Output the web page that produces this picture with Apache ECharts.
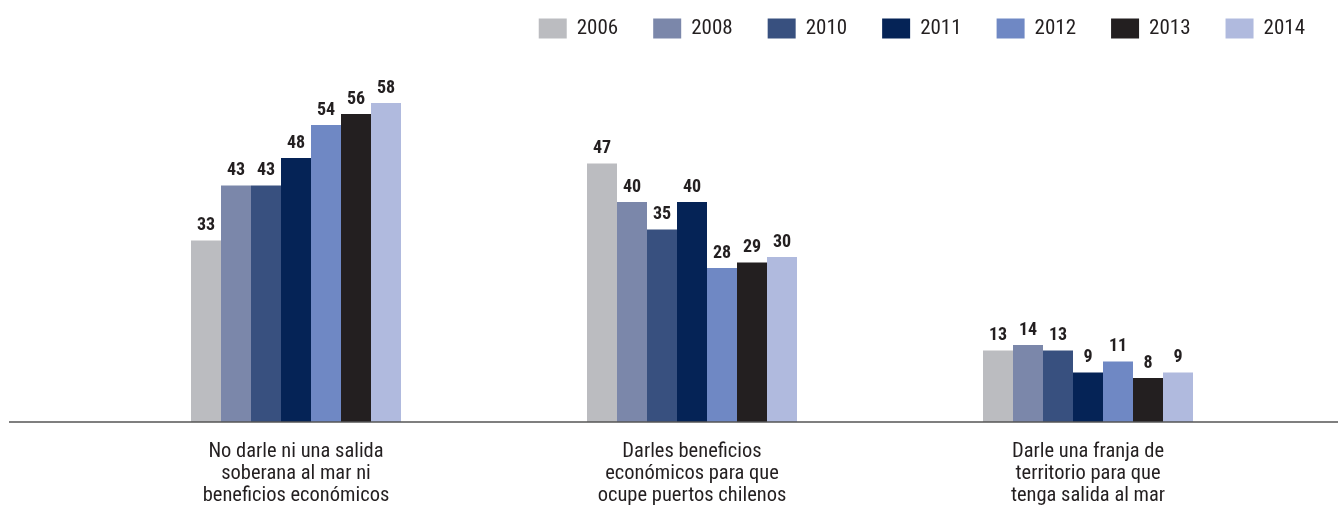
<!DOCTYPE html>
<html>
<head>
<meta charset="utf-8">
<script src="https://cdn.jsdelivr.net/npm/echarts@6/dist/echarts.min.js"></script>
<style>
  html, body { margin: 0; padding: 0; background: #fff; }
  #chart { width: 1338px; height: 508px; }
</style>
</head>
<body>
<div id="chart"></div>
<script>
// categorías (respuestas)
const categories = [
  "No darle ni una salida\nsoberana al mar ni\nbeneficios económicos",
  "Darles beneficios\neconómicos para que\nocupe puertos chilenos",
  "Darle una franja de\nterritorio para que\ntenga salida al mar"
];
const years = ["2006", "2008", "2010", "2011", "2012", "2013", "2014"];

// valores por año
const v2006 = [33, 47, 13];
const v2008 = [43, 40, 14];
const v2010 = [43, 35, 13];
const v2011 = [48, 40, 9];
const v2012 = [54, 28, 11];
const v2013 = [56, 29, 8];
const v2014 = [58, 30, 9];

const values = [v2006, v2008, v2010, v2011, v2012, v2013, v2014];
const colors = ["#bbbcc0", "#7b87aa", "#38507f", "#052356", "#6f88c4", "#231f20", "#b0bade"];

// fuente condensada (estilo Helvetica Condensed)
const FONT = '"Roboto Condensed", Roboto, sans-serif';

const chartInstance = echarts.init(document.getElementById("chart"));

const series = years.map((y, i) => ({
  name: y,
  type: "bar",
  data: values[i],
  barWidth: 30,
  barGap: "0%",
  itemStyle: { color: colors[i] },
  label: {
    show: true,
    position: "top",
    distance: 6,
    color: "#231f20",
    fontFamily: FONT,
    fontWeight: "bold",
    fontSize: 18
  }
}));

chartInstance.setOption({
  animation: false,
  color: colors,
  legend: {
    data: years,
    top: 13,
    right: 28,
    icon: "rect",
    itemWidth: 28,
    itemHeight: 20,
    itemGap: 35,
    textStyle: {
      color: "#231f20",
      fontFamily: FONT,
      fontSize: 21,
      padding: [0, 0, 0, 5]
    }
  },
  grid: {
    left: 98,
    right: 52,
    top: 37,
    bottom: 86,
    containLabel: false,
    outerBoundsMode: "none"
  },
  xAxis: {
    type: "category",
    data: categories,
    axisLine: { show: false },
    axisTick: { show: false },
    axisLabel: {
      interval: 0,
      margin: 19,
      color: "#231f20",
      fontFamily: FONT,
      fontSize: 20.5,
      lineHeight: 22,
      align: "center"
    }
  },
  yAxis: {
    type: "value",
    min: 0,
    max: 70,
    show: false,
    splitLine: { show: false }
  },
  graphic: [
    {
      type: "line",
      shape: { x1: 9, y1: 422, x2: 1338, y2: 422 },
      style: { stroke: "#555", lineWidth: 1.5 },
      z: 100
    }
  ],
  series: series
});
</script>
</body>
</html>
